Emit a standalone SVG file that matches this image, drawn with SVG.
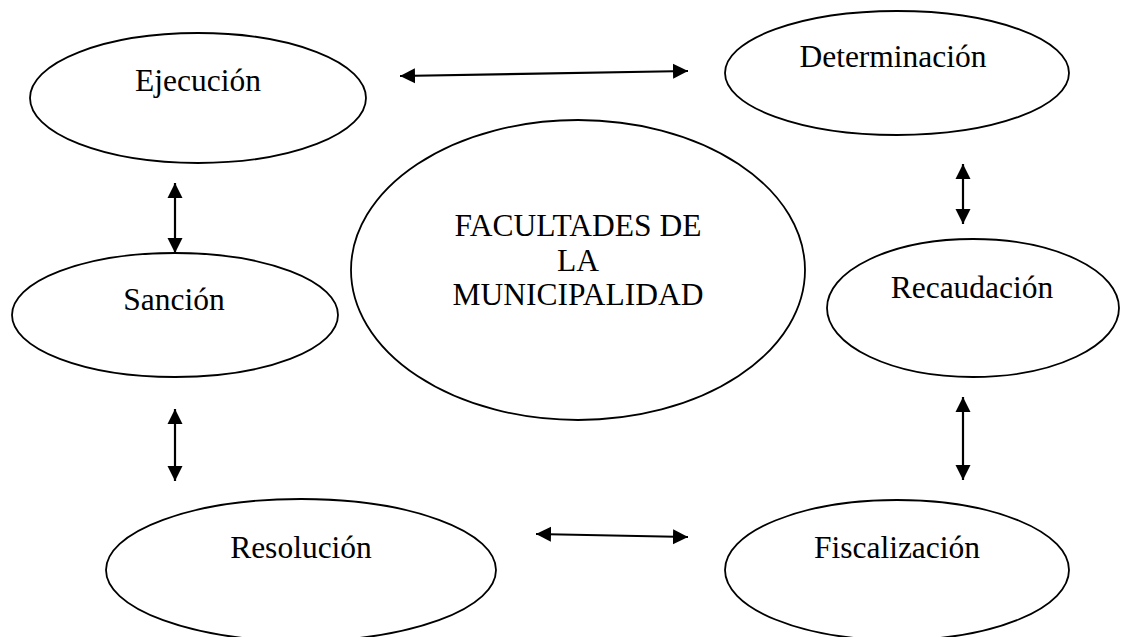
<svg xmlns="http://www.w3.org/2000/svg" width="1123" height="637" viewBox="0 0 1123 637">
<style>
.node ellipse{fill:none;stroke:#000;stroke-width:1.8}
.node text{font-family:"Liberation Serif","Times New Roman",serif;font-size:31.5px;fill:#000;text-anchor:middle}
.conn line{stroke:#000;stroke-width:2.2;fill:none;marker-start:url(#ah);marker-end:url(#ah)}
</style>
<defs>
<marker id="ah" markerUnits="userSpaceOnUse" markerWidth="16" markerHeight="16" viewBox="0 0 16 16" refX="15" refY="8" orient="auto-start-reverse">
<path d="M0,0.5 L15,8 L0,15.5 Z" fill="#000"/>
</marker>
</defs>
<rect width="1123" height="637" fill="#fff"/>
<g id="center" class="node">
<ellipse cx="578" cy="270" rx="227" ry="150"/>
<text x="578" y="236">FACULTADES DE</text>
<text x="578" y="271">LA</text>
<text x="578" y="305">MUNICIPALIDAD</text>
</g>
<g id="ejecucion" class="node">
<ellipse cx="198" cy="98" rx="168" ry="65"/>
<text x="198" y="91">Ejecución</text>
</g>
<g id="determinacion" class="node">
<ellipse cx="897" cy="73" rx="172" ry="62"/>
<text x="893" y="67">Determinación</text>
</g>
<g id="sancion" class="node">
<ellipse cx="175" cy="315" rx="163" ry="62"/>
<text x="174" y="310">Sanción</text>
</g>
<g id="recaudacion" class="node">
<ellipse cx="973" cy="308" rx="146" ry="69"/>
<text x="972" y="298">Recaudación</text>
</g>
<g id="resolucion" class="node">
<ellipse cx="301" cy="570" rx="195" ry="71"/>
<text x="301" y="558">Resolución</text>
</g>
<g id="fiscalizacion" class="node">
<ellipse cx="897" cy="570" rx="172" ry="70"/>
<text x="897" y="558">Fiscalización</text>
</g>
<g id="connectors" class="conn">
<line x1="400" y1="76" x2="688" y2="71"/>
<line x1="175" y1="183" x2="175" y2="253"/>
<line x1="963" y1="164" x2="963" y2="224"/>
<line x1="175" y1="409" x2="175" y2="481"/>
<line x1="963" y1="397" x2="963" y2="480"/>
<line x1="536" y1="534" x2="688" y2="537"/>
</g>
</svg>
